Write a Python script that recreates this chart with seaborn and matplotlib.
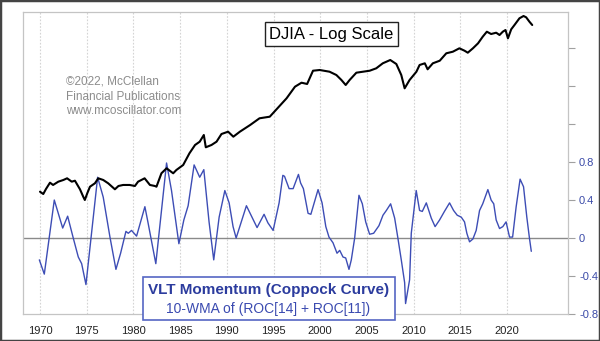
import numpy as np
import pandas as pd
import matplotlib
matplotlib.use("Agg")
import matplotlib.pyplot as plt
import seaborn as sns
from matplotlib.patches import Rectangle
from matplotlib.ticker import NullLocator

# ---------------- data ----------------
djia_years = [1970.00, 1970.35, 1970.64, 1971.07, 1971.40, 1971.96, 1972.50, 1972.90, 1973.40, 1973.74,
              1974.28, 1974.63, 1974.80, 1975.06, 1975.35, 1975.88, 1976.24, 1976.77, 1977.30, 1978.02,
              1978.40, 1978.90, 1979.60, 1980.16, 1980.50, 1981.20, 1981.77, 1982.30, 1982.47, 1983.00,
              1983.55, 1984.26, 1984.60, 1985.33, 1986.00, 1986.60, 1987.10, 1987.54, 1987.75, 1988.36,
              1988.90, 1989.43, 1990.14, 1990.70, 1991.40, 1992.50, 1993.50, 1994.60, 1995.50, 1996.40,
              1997.30, 1998.00, 1998.60, 1999.23, 1999.95, 2001.00, 2001.73, 2002.27, 2002.73, 2003.15,
              2003.87, 2004.58, 2005.30, 2006.00, 2006.70, 2007.50, 2008.15, 2008.68, 2009.04, 2009.57,
              2010.30, 2010.64, 2011.20, 2011.50, 2012.06, 2012.80, 2013.50, 2014.20, 2014.90, 2015.45,
              2015.80, 2016.35, 2016.90, 2017.40, 2017.84, 2018.30, 2018.84, 2019.20, 2019.55, 2019.84,
              2020.10, 2020.45, 2020.80, 2021.33, 2021.77, 2022.05, 2022.40, 2022.70]
djia_values = [697, 661, 742, 858, 814, 878, 913, 949, 878, 898,
               737, 621, 576, 672, 782, 846, 949, 913, 846, 737,
               795, 814, 814, 795, 878, 949, 814, 795, 782, 1065,
               1195, 1065, 1149, 1290, 1688, 2044, 2205, 2573, 1938, 2044,
               2205, 2632, 2776, 2474, 2776, 3239, 3779, 3921, 4846, 5990,
               7825, 8578, 8329, 11306, 11492, 11049, 10241, 9130, 8135, 9130,
               10800, 11049, 11306, 11950, 13410, 14468, 13194, 10241, 7537, 9130,
               11049, 12898, 13410, 11679, 13410, 14235, 16884, 17514, 18943, 17925,
               17117, 18943, 21251, 24740, 27762, 26325, 27125, 25726, 27762, 28866,
               23846, 29340, 32393, 37793, 39852, 38671, 34950, 32393]

mom_years = [1969.93, 1970.46, 1971.53, 1972.43, 1972.96, 1973.56, 1974.10, 1974.46, 1974.92, 1976.17,
             1976.77, 1977.49, 1978.13, 1978.63, 1979.20, 1979.45, 1979.80, 1980.16, 1980.34, 1981.23,
             1981.55, 1982.40, 1983.55, 1984.08, 1984.87, 1985.40, 1985.86, 1986.50, 1987.10, 1987.54,
             1988.10, 1988.60, 1989.18, 1989.79, 1990.25, 1990.67, 1991.00, 1992.10, 1993.24, 1993.99,
             1994.40, 1994.96, 1995.60, 1996.00, 1996.18, 1996.67, 1997.10, 1997.67, 1997.90, 1998.20,
             1998.70, 1999.00, 1999.77, 2000.20, 2000.60, 2000.94, 2001.37, 2001.80, 2002.09, 2002.44,
             2002.73, 2003.08, 2003.33, 2003.69, 2004.15, 2004.51, 2004.87, 2005.29, 2005.72, 2006.29,
             2006.72, 2007.08, 2007.54, 2007.97, 2008.30, 2008.68, 2009.04, 2009.14, 2009.57, 2009.75,
             2010.28, 2010.64, 2010.93, 2011.36, 2011.89, 2012.30, 2012.78, 2013.30, 2013.85, 2014.28,
             2014.67, 2015.10, 2015.45, 2015.70, 2015.99, 2016.35, 2016.70, 2017.06, 2017.40, 2017.95,
             2018.30, 2018.58, 2018.84, 2019.20, 2019.55, 2019.90, 2020.27, 2020.60, 2020.98, 2021.40,
             2021.77, 2022.12, 2022.40, 2022.60]
mom_values = [-0.23, -0.38, 0.40, 0.105, 0.23, 0.00, -0.20, -0.27, -0.49, 0.64,
              0.43, 0.01, -0.33, -0.16, 0.07, 0.05, 0.08, 0.04, 0.02, 0.33,
              0.17, -0.27, 0.79, 0.50, -0.06, 0.19, 0.34, 0.77, 0.64, 0.72,
              0.17, -0.23, 0.22, 0.50, 0.37, 0.12, 0.00, 0.34, 0.11, 0.25,
              0.16, 0.08, 0.37, 0.66, 0.65, 0.52, 0.52, 0.67, 0.58, 0.52,
              0.26, 0.25, 0.51, 0.37, 0.12, 0.01, -0.05, -0.16, -0.13, -0.20,
              -0.21, -0.33, -0.23, 0.00, 0.45, 0.36, 0.17, 0.04, 0.05, 0.13,
              0.24, 0.29, 0.36, 0.21, 0.01, -0.23, -0.47, -0.69, -0.44, 0.05,
              0.50, 0.29, 0.28, 0.37, 0.21, 0.12, 0.19, 0.28, 0.37, 0.29,
              0.24, 0.22, 0.17, 0.05, -0.04, -0.01, 0.08, 0.29, 0.36, 0.51,
              0.40, 0.36, 0.19, 0.10, 0.12, 0.17, 0.01, 0.01, 0.33, 0.62,
              0.54, 0.22, 0.00, -0.14]

x_ticks = [1970, 1975, 1980, 1985, 1990, 1995, 2000, 2005, 2010, 2015, 2020]
x_tick_labels = [str(y) for y in x_ticks]
y_ticks = [-0.8, -0.4, 0, 0.4, 0.8, 1.2, 1.6, 2.0]
y_tick_labels = ["-0.8", "-0.4", "0", "0.4", "0.8", "", "", ""]

title_text = "DJIA - Log Scale"
copyright_lines = ["\u00a92022, McClellan", "Financial Publications", "www.mcoscillator.com"]
legend_line1 = "VLT Momentum (Coppock Curve)"
legend_line2 = "10-WMA of (ROC[14] + ROC[11])"

# ---------------- style ----------------
sns.set_style("white")
plt.rcParams['font.family'] = ['Liberation Sans', 'DejaVu Sans']

W, H = 600, 341
fig = plt.figure(figsize=(6, 3.41), dpi=100)
fig.patch.set_facecolor('white')

def fx(px):
    return px / W

def fy(py):
    return 1 - py / H

ax_l, ax_r, ax_t, ax_b = 23, 568, 12, 314
ax = fig.add_axes([fx(ax_l), fy(ax_b), fx(ax_r - ax_l), (ax_b - ax_t) / H])
ax2 = ax.twinx()

mom_df = pd.DataFrame({'year': mom_years, 'value': mom_values})
djia_df = pd.DataFrame({'year': djia_years, 'djia': djia_values})

blue = '#3d4db5'
# grid and zero line
for xv in x_ticks:
    ax.axvline(xv, color='#d4d4d4', lw=0.8, ls=(0, (1.5, 1.5)), zorder=0)
ax.axhline(0, color='#8a8a8a', lw=1.0, zorder=1)

sns.lineplot(data=mom_df, x='year', y='value', ax=ax, color=blue, linewidth=1.0, zorder=3)
sns.lineplot(data=djia_df, x='year', y='djia', ax=ax2, color='black', linewidth=1.5, zorder=4)

ax.set_xlim(1968.18, 2026.53)
ax.set_ylim(-0.8, 2.38)
ax2.set_yscale('log')
ax2.set_ylim(41.7, 43700)
ax2.set_yticks([])
ax2.yaxis.set_minor_locator(NullLocator())
ax2.set_ylabel('')
ax2.set_xlabel('')
for s in ax2.spines.values():
    s.set_visible(False)

ax.set_xlabel('')
ax.set_ylabel('')
ax.set_xticks(x_ticks)
ax.set_xticklabels(x_tick_labels)
ax.set_yticks(y_ticks)
ax.set_yticklabels(y_tick_labels)
ax.yaxis.tick_right()
ax.tick_params(axis='y', which='both', right=True, left=False, length=5, width=0.8,
               color='#a0a0a0', labelcolor='#3a4aa8', labelsize=8, pad=3)
ax.tick_params(axis='x', length=0, labelsize=8, labelcolor='#222222', pad=9)
for s in ax.spines.values():
    s.set_color('#c4c4c4')
    s.set_linewidth(0.9)

# title box
fig.patches.append(Rectangle((fx(265), fy(45.7)), fx(133), 23.7 / H, transform=fig.transFigure,
                             facecolor='white', edgecolor='#222222', lw=1.0, zorder=10))
fig.text(fx(331.5), fy(34), title_text, ha='center', va='center', fontsize=12,
         color='black', zorder=11)

# copyright text
for i, line in enumerate(copyright_lines):
    fig.text(fx(66), fy(82 + 14.5 * i), line, ha='left', va='center', fontsize=8.5,
             color='#8c8c8c', zorder=11)

# legend box
fig.patches.append(Rectangle((fx(143), fy(320)), fx(251.5), 43.3 / H, transform=fig.transFigure,
                             facecolor='white', edgecolor='#5566c4', lw=1.2, zorder=10))
fig.text(fx(268.5), fy(290), legend_line1, ha='center', va='center', fontsize=11,
         fontweight='bold', color='#2c3c9e', zorder=11)
fig.text(fx(268.5), fy(309), legend_line2, ha='center', va='center', fontsize=10,
         color='#3a4ab0', zorder=11)

# outer border
fig.patches.append(Rectangle((0, 0), 1, 1, transform=fig.transFigure, fill=False,
                             edgecolor='#444444', lw=2.5, zorder=20))

fig.savefig('out.png', dpi=100)
